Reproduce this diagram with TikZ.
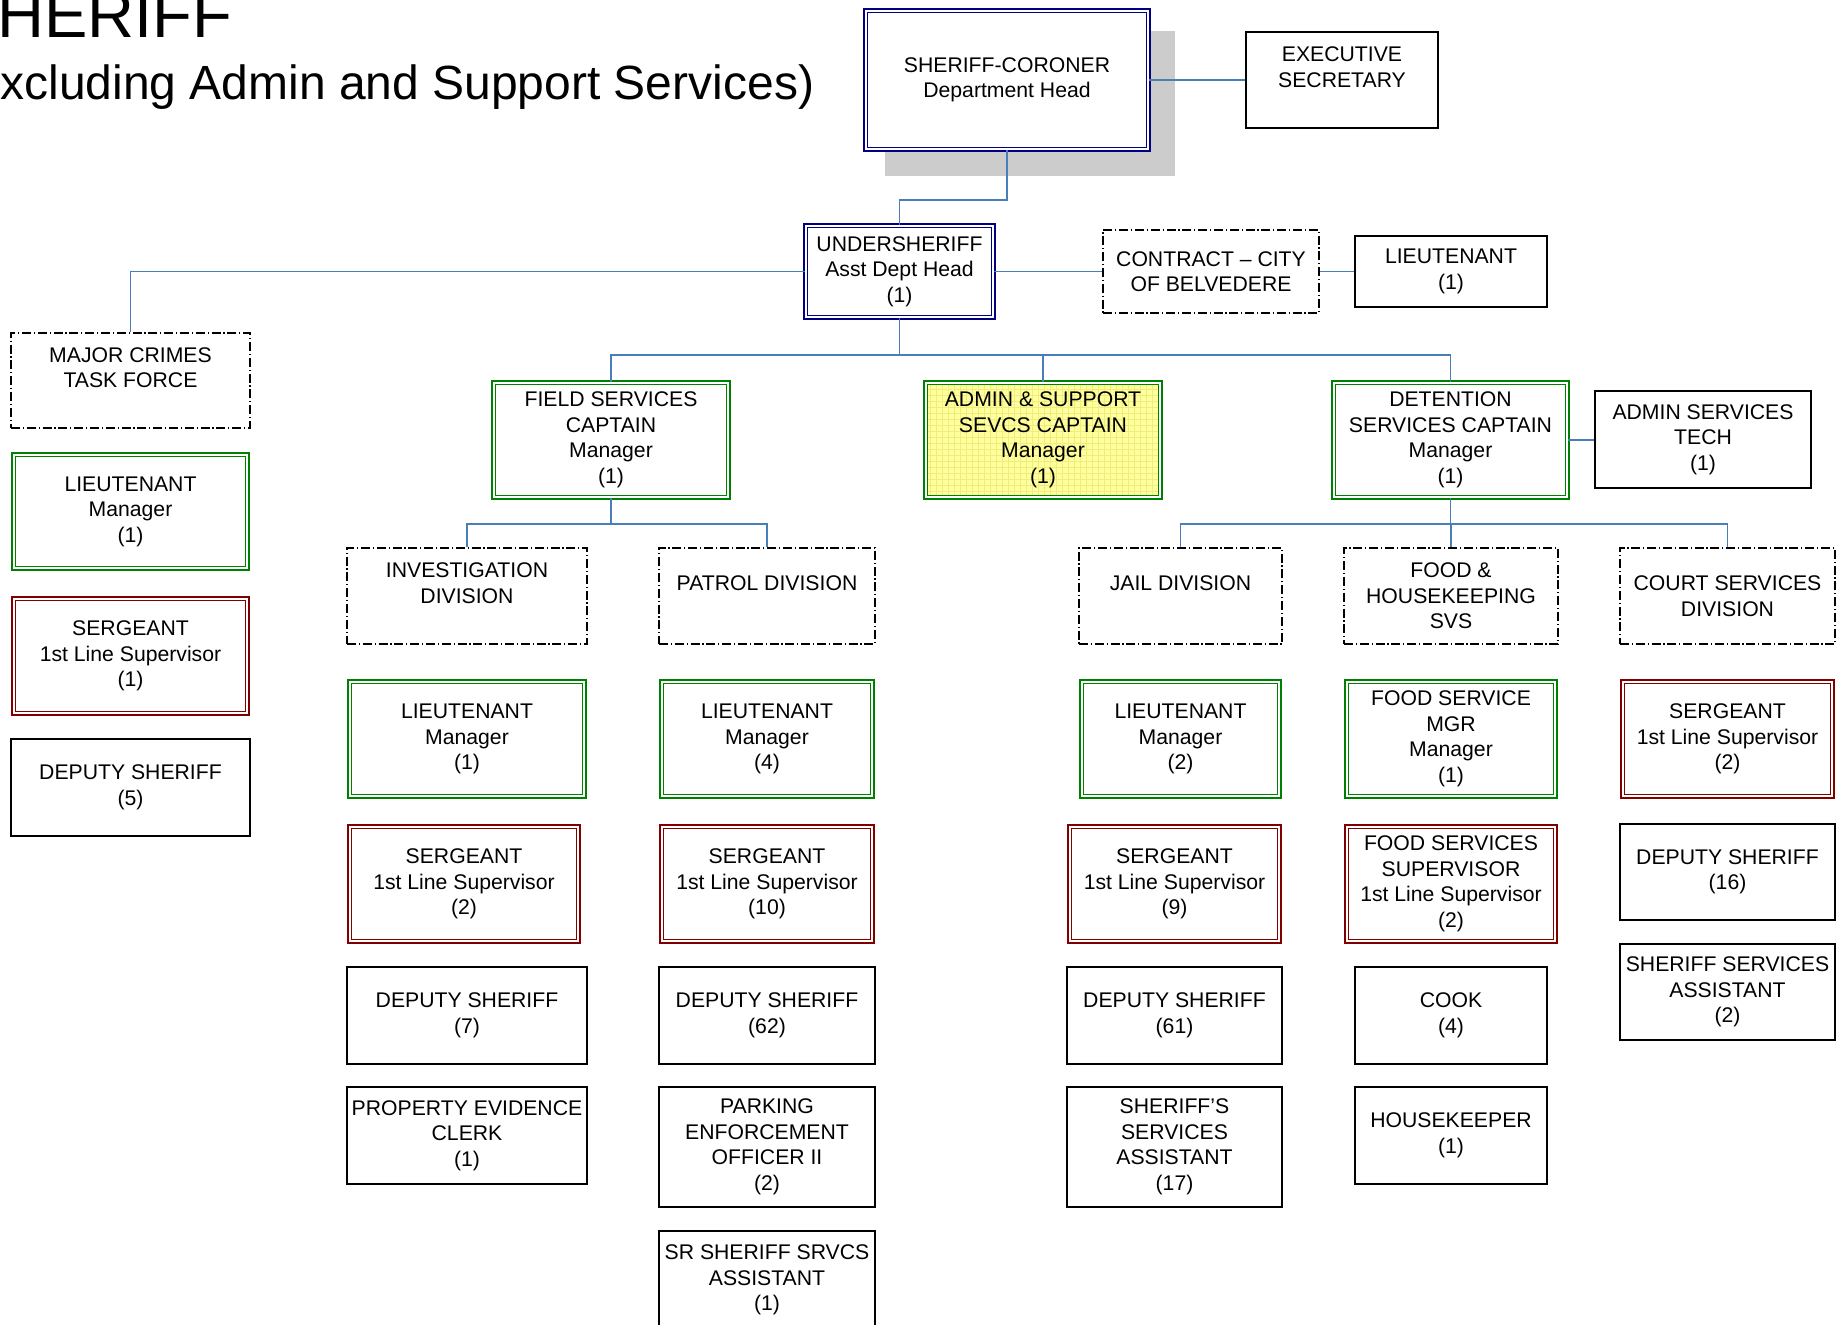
\documentclass[tikz,border=0pt]{standalone}
\usepackage{fontspec}
\setmainfont{Liberation Sans}
\usetikzlibrary{patterns}

\definecolor{navyb}{RGB}{0,0,128}
\definecolor{grn}{RGB}{0,128,0}
\definecolor{mar}{RGB}{128,0,0}
\definecolor{linkblue}{RGB}{74,126,187}
\definecolor{shadowgray}{RGB}{204,204,204}
\definecolor{ylw}{RGB}{255,255,160}
\definecolor{ylwgrid}{RGB}{238,238,120}

% one unit = one pixel of a 1843 x 1325 sheet, y running downwards
\tikzset{
  x=0.5pt, y=-0.5pt,
  box/.style={rectangle, inner sep=1pt, align=center, fill=white,
    font=\fontsize{10.6}{12.75}\selectfont,
    execute at begin node={\rule{0pt}{10.1pt}}},
  plain/.style={box, draw=black, line width=0.85pt},
  divbox/.style={box, draw=black, line width=0.8pt,
    dash pattern=on 4.5pt off 1.4pt on 0.6pt off 1.4pt},
  dbl/.style={box, draw=#1, line width=0.85pt, double=white, double distance=1pt},
  headbox/.style={dbl=navyb},
  mgrbox/.style={dbl=grn},
  supbox/.style={dbl=mar},
  hilite/.style={dbl=grn, fill=none, preaction={fill=ylw},
    pattern=grid, pattern color=ylwgrid},
  link/.style={draw=linkblue, line width=0.75pt},
}

% box from its corners (single outline)
\newcommand\obox[7]{\node[#2, minimum width={(#5-#3)*0.5pt}, minimum height={(#6-#4)*0.5pt}]
  (#1) at ({(#3+#5)/2},{(#4+#6)/2}) {#7};}
% box from its corners (double outline drawn inside the corners)
\newcommand\dbox[7]{\node[#2, minimum width={(#5-#3)*0.5pt-2.7pt}, minimum height={(#6-#4)*0.5pt-2.7pt}]
  (#1) at ({(#3+#5)/2},{(#4+#6)/2}) {#7};}

\begin{document}
\begin{tikzpicture}
\useasboundingbox (0,0) rectangle (1843,1325);

% heading
\node[anchor=base west, inner sep=0pt, font=\fontsize{32.5}{36}\selectfont] (ttla) at (-3,38) {HERIFF};
\node[anchor=base west, inner sep=0pt, font=\fontsize{24}{28}\selectfont] (ttlb) at (0,100) {xcluding Admin and Support Services)};

% top of the department
\fill[shadowgray] (885,31) rectangle (1175,176);
\dbox{sheriff}{headbox}{863}{8}{1151}{152}{SHERIFF-CORONER\\Department Head}
\obox{exec}{plain}{1246}{32}{1438}{128}{EXECUTIVE\\SECRETARY\\~}
\dbox{under}{headbox}{803}{223}{996}{320}{UNDERSHERIFF\\Asst Dept Head\\(1)}
\obox{contract}{divbox}{1103}{230}{1319}{313}{CONTRACT – CITY\\OF BELVEDERE}
\obox{ltbelv}{plain}{1355}{236}{1547}{307}{LIEUTENANT\\(1)}

% task force column
\obox{majcr}{divbox}{11}{333}{250}{428}{MAJOR CRIMES\\TASK FORCE\\~}
\dbox{mclt}{mgrbox}{11}{452}{250}{571}{LIEUTENANT\\Manager\\(1)}
\dbox{mcsgt}{supbox}{11}{596}{250}{716}{SERGEANT\\1st Line Supervisor\\(1)}
\obox{mcdep}{plain}{11}{739}{250}{836}{DEPUTY SHERIFF\\(5)}

% captains
\dbox{field}{mgrbox}{491}{380}{731}{500}{FIELD SERVICES\\CAPTAIN\\Manager\\(1)}
\dbox{admin}{hilite}{923}{380}{1163}{500}{ADMIN \& SUPPORT\\SEVCS CAPTAIN\\Manager\\(1)}
\dbox{detent}{mgrbox}{1331}{380}{1570}{500}{DETENTION\\SERVICES CAPTAIN\\Manager\\(1)}
\obox{admtech}{plain}{1595}{391}{1811}{488}{ADMIN SERVICES\\TECH\\(1)}

% divisions
\obox{invest}{divbox}{347}{548}{587}{644}{INVESTIGATION\\DIVISION\\~}
\obox{patrol}{divbox}{659}{548}{875}{644}{PATROL DIVISION\\~}
\obox{jail}{divbox}{1079}{548}{1282}{644}{JAIL DIVISION\\~}
\obox{food}{divbox}{1344}{548}{1558}{644}{FOOD \&\\HOUSEKEEPING\\SVS}
\obox{court}{divbox}{1620}{548}{1835}{644}{COURT SERVICES\\DIVISION}

% investigation
\dbox{invlt}{mgrbox}{347}{679}{587}{799}{LIEUTENANT\\Manager\\(1)}
\dbox{invsgt}{supbox}{347}{824}{581}{944}{SERGEANT\\1st Line Supervisor\\(2)}
\obox{invdep}{plain}{347}{967}{587}{1064}{DEPUTY SHERIFF\\(7)}
\obox{invclk}{plain}{347}{1087}{587}{1184}{PROPERTY EVIDENCE\\CLERK\\(1)}

% patrol
\dbox{patlt}{mgrbox}{659}{679}{875}{799}{LIEUTENANT\\Manager\\(4)}
\dbox{patsgt}{supbox}{659}{824}{875}{944}{SERGEANT\\1st Line Supervisor\\(10)}
\obox{patdep}{plain}{659}{967}{875}{1064}{DEPUTY SHERIFF\\(62)}
\obox{patpark}{plain}{659}{1087}{875}{1207}{PARKING\\ENFORCEMENT\\OFFICER II\\(2)}
\obox{patsr}{plain}{659}{1231}{875}{1329}{SR SHERIFF SRVCS\\ASSISTANT\\(1)}

% jail
\dbox{jaillt}{mgrbox}{1079}{679}{1282}{799}{LIEUTENANT\\Manager\\(2)}
\dbox{jailsgt}{supbox}{1067}{824}{1282}{944}{SERGEANT\\1st Line Supervisor\\(9)}
\obox{jaildep}{plain}{1067}{967}{1282}{1064}{DEPUTY SHERIFF\\(61)}
\obox{jailssa}{plain}{1067}{1087}{1282}{1207}{SHERIFF’S\\SERVICES\\ASSISTANT\\(17)}

% food & housekeeping
\dbox{foodmgr}{mgrbox}{1344}{679}{1558}{799}{FOOD SERVICE\\MGR\\Manager\\(1)}
\dbox{foodsup}{supbox}{1344}{824}{1558}{944}{FOOD SERVICES\\SUPERVISOR\\1st Line Supervisor\\(2)}
\obox{cook}{plain}{1355}{967}{1547}{1064}{COOK\\(4)}
\obox{hskp}{plain}{1355}{1087}{1547}{1184}{HOUSEKEEPER\\(1)}

% court services
\dbox{courtsgt}{supbox}{1620}{679}{1835}{799}{SERGEANT\\1st Line Supervisor\\(2)}
\obox{courtdep}{plain}{1620}{824}{1835}{920}{DEPUTY SHERIFF\\(16)}
\obox{courtssa}{plain}{1620}{944}{1835}{1040}{SHERIFF SERVICES\\ASSISTANT\\(2)}

% bus levels of the connectors
\coordinate (busS) at (0,200);
\coordinate (busU) at (0,355);
\coordinate (busF) at (0,524);
\coordinate (busD) at (0,524);

\draw[link] (sheriff.south) |- (under.north |- busS) -- (under.north);
\draw[link] (sheriff.east) -- (sheriff.east -| exec.west);
\draw[link] (under.east) -- (under.east -| contract.west);
\draw[link] (contract.east) -- (contract.east -| ltbelv.west);
\draw[link] (under.west) -| (majcr.north);
\draw[link] (under.south) -- (under.south |- busU);
\draw[link] (field.north) |- (detent.north |- busU) -- (detent.north);
\draw[link] (admin.north) -- (admin.north |- busU);
\draw[link] (detent.east) -- (detent.east -| admtech.west);
\draw[link] (field.south) -- (field.south |- busF);
\draw[link] (invest.north) |- (patrol.north |- busF) -- (patrol.north);
\draw[link] (detent.south) -- (detent.south |- busD);
\draw[link] (jail.north) |- (court.north |- busD) -- (court.north);
\draw[link] (food.north) -- (food.north |- busD);
\end{tikzpicture}
\end{document}
